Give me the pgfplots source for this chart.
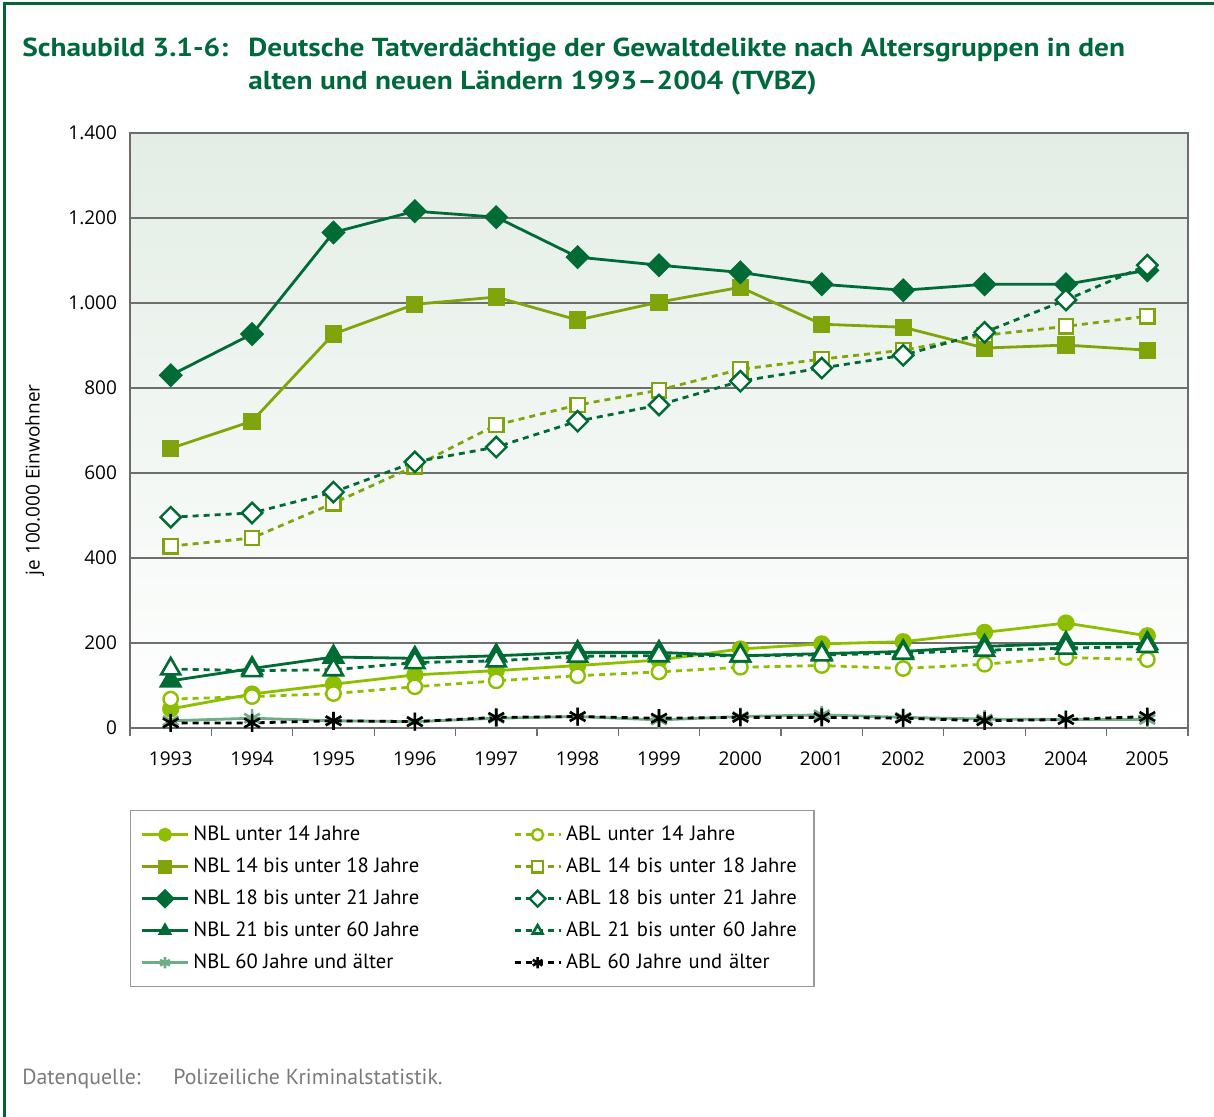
\documentclass[border=0pt]{standalone}
\usepackage{fontspec}
\setmainfont{PT Sans}
\newfontfamily\tickfont{Open Sans}
\newfontfamily\titlefont[FakeStretch=1.13]{PT Sans}
\usepackage{pgfplots}
\pgfplotsset{compat=1.18}
\definecolor{framec}{HTML}{006633}
\definecolor{titlec}{HTML}{00693C}
\definecolor{cA}{HTML}{8DBF00}
\definecolor{cB}{HTML}{80A50C}
\definecolor{cC}{HTML}{006B35}
\definecolor{cD}{HTML}{6DAE85}
\definecolor{bgtop}{HTML}{E3EDE5}
\definecolor{bgmid}{HTML}{EAF2EB}
\definecolor{gridc}{HTML}{6E6E6E}
\definecolor{srcc}{HTML}{7A7A7A}
\pgfplotsset{
  nbl/.style={solid, line width=1.4pt},
  abl/.style={line width=1.4pt, dash pattern=on 3pt off 2.5pt},
}
\begin{document}
\begin{tikzpicture}
\path[use as bounding box] (0,0) rectangle (607pt,-558.5pt);
\draw[framec, line width=1.5pt] (2pt,-558.5pt) -- (2pt,-2pt) -- (607pt,-2pt);
\node[anchor=base west, font=\titlefont\fontsize{13}{15}\selectfont\bfseries, text=titlec, inner sep=0] at (11pt,-28.5pt) {Schaubild 3.1-6:};
\node[anchor=base west, font=\titlefont\fontsize{13}{15}\selectfont\bfseries, text=titlec, inner sep=0] at (124pt,-28.5pt) {Deutsche Tatverdächtige der Gewaltdelikte nach Altersgruppen in den};
\node[anchor=base west, font=\titlefont\fontsize{13}{15}\selectfont\bfseries, text=titlec, inner sep=0] at (124pt,-45pt) {alten und neuen Ländern 1993–2004 (TVBZ)};
\node[anchor=base west, font=\fontsize{10.9}{13}\selectfont, text=srcc, inner sep=0] at (11pt,-542pt) {Datenquelle:};
\node[anchor=base west, font=\fontsize{10.9}{13}\selectfont, text=srcc, inner sep=0] at (86.5pt,-542pt) {Polizeiliche Kriminalstatistik.};
\begin{axis}[
  at={(65pt,-364pt)}, anchor=south west,
  scale only axis, width=529pt, height=297.5pt,
  xmin=1992.5, xmax=2005.5, ymin=0, ymax=1400,
  xtick={1993,...,2005}, ytick={0,200,...,1400},
  xtick pos=bottom, ytick pos=left,
  /pgf/number format/assume math mode=true,
  /pgf/number format/1000 sep={.},
  scaled y ticks=false,
  xticklabel style={/pgf/number format/1000 sep={}, yshift=-8.5pt},
  yticklabel style={xshift=-3pt},
  tick label style={font=\tickfont\fontsize{9.5}{11}\selectfont, text=black},
  tick style={draw=none},
  extra x ticks={1992.5,1993.5,...,2005.5},
  extra x tick labels={},
  extra x tick style={grid=none, major tick length=4pt, tick align=outside, xtick pos=bottom, tick style={draw=gridc, line width=0.6pt}},
  ymajorgrids, grid style={gridc, line width=0.7pt},
  axis line style={draw=gray!85!black, line width=0.6pt},
  axis background/.style={top color=bgtop, middle color=bgmid, bottom color=white},
  ylabel={je 100.000 Einwohner},
  ylabel style={font=\tickfont\fontsize{9.5}{11}\selectfont, at={(axis description cs:-0.09,0.417)}, anchor=center},
  legend columns=2,
  legend cell align=left,
  legend style={at={(0,-0.138)}, anchor=north west, draw=gray!80, line width=0.6pt, fill=white,
    font=\fontsize{10.3}{12}\selectfont, inner xsep=5pt, inner ysep=5pt, row sep=2pt,
    nodes={inner sep=2pt, text height=8pt, text depth=2pt},
    /tikz/every even column/.append style={column sep=45pt},
    /tikz/column 4/.append style={nodes={text width=117pt}}},
  legend image code/.code={\draw[mark repeat=2,mark phase=2,mark size=2.8pt] plot coordinates {(0pt,0pt) (11.5pt,0pt) (23pt,0pt)};},
]
% NBL unter 14
\addplot[nbl, color=cA, mark=*, mark size=3.6pt, mark options={solid, fill=cA}] coordinates {
(1993,45)(1994,80)(1995,103)(1996,125)(1997,135)(1998,147)(1999,160)(2000,186)(2001,198)(2002,203)(2003,225)(2004,247)(2005,217)};
\addlegendentry{NBL unter 14 Jahre}
% ABL unter 14
\addplot[abl, color=cA, mark=*, mark size=3.6pt, mark options={solid, fill=white, line width=1.2pt}] coordinates {
(1993,68)(1994,74)(1995,81)(1996,97)(1997,111)(1998,123)(1999,132)(2000,143)(2001,147)(2002,140)(2003,150)(2004,166)(2005,161)};
\addlegendentry{ABL unter 14 Jahre}
% NBL 14-18
\addplot[nbl, color=cB, mark=square*, mark size=3.6pt, mark options={solid, fill=cB}] coordinates {
(1993,658)(1994,722)(1995,927)(1996,997)(1997,1014)(1998,960)(1999,1002)(2000,1037)(2001,950)(2002,943)(2003,894)(2004,901)(2005,889)};
\addlegendentry{NBL 14 bis unter 18 Jahre}
% ABL 14-18
\addplot[abl, color=cB, mark=square*, mark size=3.6pt, mark options={solid, fill=white, line width=1.2pt}] coordinates {
(1993,428)(1994,447)(1995,529)(1996,616)(1997,713)(1998,760)(1999,795)(2000,844)(2001,868)(2002,889)(2003,924)(2004,945)(2005,969)};
\addlegendentry{ABL 14 bis unter 18 Jahre}
% NBL 18-21
\addplot[nbl, color=cC, mark=square*, mark size=3.6pt, mark options={solid, fill=cC, rotate=45}] coordinates {
(1993,830)(1994,927)(1995,1166)(1996,1216)(1997,1202)(1998,1108)(1999,1089)(2000,1072)(2001,1044)(2002,1030)(2003,1044)(2004,1044)(2005,1077)};
\addlegendentry{NBL 18 bis unter 21 Jahre}
% ABL 18-21
\addplot[abl, color=cC, mark=square*, mark size=3.6pt, mark options={solid, fill=white, rotate=45, line width=1.2pt}] coordinates {
(1993,496)(1994,506)(1995,555)(1996,626)(1997,661)(1998,722)(1999,760)(2000,816)(2001,847)(2002,877)(2003,931)(2004,1007)(2005,1089)};
\addlegendentry{ABL 18 bis unter 21 Jahre}
% NBL 21-60
\addplot[nbl, color=cC, mark=triangle*, mark size=5.5pt, mark options={solid, fill=cC}] coordinates {
(1993,111)(1994,140)(1995,167)(1996,164)(1997,170)(1998,178)(1999,178)(2000,170)(2001,175)(2002,180)(2003,192)(2004,199)(2005,199)};
\addlegendentry{NBL 21 bis unter 60 Jahre}
% ABL 21-60
\addplot[abl, color=cC, mark=triangle*, mark size=5.5pt, mark options={solid, fill=white, line width=1.3pt}] coordinates {
(1993,139)(1994,135)(1995,137)(1996,154)(1997,158)(1998,169)(1999,170)(2000,170)(2001,172)(2002,176)(2003,183)(2004,188)(2005,192)};
\addlegendentry{ABL 21 bis unter 60 Jahre}
% NBL 60+
\addplot[nbl, color=cD, mark=asterisk, mark size=4.5pt, mark options={solid, line width=1.3pt}] coordinates {
(1993,17)(1994,23)(1995,17)(1996,15)(1997,23)(1998,27)(1999,19)(2000,27)(2001,31)(2002,25)(2003,21)(2004,20)(2005,20)};
\addlegendentry{NBL 60 Jahre und älter}
% ABL 60+
\addplot[abl, color=black, mark=asterisk, mark size=4.5pt, mark options={solid, line width=1.3pt}] coordinates {
(1993,12)(1994,12)(1995,17)(1996,15)(1997,25)(1998,27)(1999,23)(2000,25)(2001,25)(2002,23)(2003,17)(2004,20)(2005,27)};
\addlegendentry{ABL 60 Jahre und älter}
\end{axis}
\end{tikzpicture}
\end{document}
